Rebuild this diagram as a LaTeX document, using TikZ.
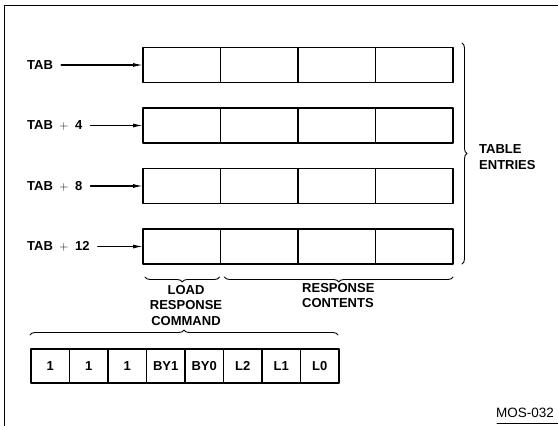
\documentclass[tikz,border=0pt]{standalone}
\usepackage{fontspec}
\setmainfont{Liberation Sans}
\usetikzlibrary{positioning,arrows.meta,decorations.pathreplacing}

\begin{document}
\begin{tikzpicture}[x=1pt, y=1pt, >={Latex[length=10pt,width=4pt]},
                    line cap=round, line join=round,
    cell/.style={draw, line width=1.3pt, minimum width=77.5pt,
                 minimum height=35pt, inner sep=0pt, outer sep=0pt},
    bitcell/.style={draw, line width=1.2pt, minimum width=38.5pt,
                    minimum height=34pt, inner sep=0pt, outer sep=0pt,
                    font=\bfseries\fontsize{13}{15.5}\selectfont},
    lbl/.style={font=\bfseries\fontsize{13}{15.5}\selectfont, inner sep=0pt},
    brc/.style={decorate, decoration={brace, amplitude=5pt}, line width=0.9pt}]
  \useasboundingbox (0,0) rectangle (558,426);

  % Frame (left and top edges, short piece of the bottom edge)
  \draw[line width=1pt] (558,420) -- (4,420) -- (4,0);
  \draw[line width=1pt] (497,2) -- (558,2);

  % Table rows, four 32-bit entries, with their address labels
  \foreach \r/\y/\t in {1/361/TAB, 2/300.5/TAB\enspace$+$\enspace4,
                        3/240/TAB\enspace$+$\enspace8,
                        4/179.5/TAB\enspace$+$\enspace12} {
    \node[cell, anchor=west] (row\r-1) at (143,\y) {};
    \node[cell, right=0pt of row\r-1] (row\r-2) {};
    \node[cell, right=0pt of row\r-2] (row\r-3) {};
    \node[cell, right=0pt of row\r-3] (row\r-4) {};
    \node[lbl, anchor=west] (tab\r) at (27,\y) {\t};
    \draw[->, line width=1.1pt, shorten <=8pt] (tab\r.east) -- (row\r-1.west);
  }

  % Table entries brace
  \draw[brc] ([xshift=9pt,yshift=4.5pt]row1-4.north east)
          -- ([xshift=9pt]row4-4.south east);
  \node[lbl, anchor=west, align=left] (entries) at (479,269)
    {TABLE\\ENTRIES};

  % Braces under the last entry
  \draw[brc] ([xshift=-1pt,yshift=-13pt]row4-1.south east)
          -- ([xshift=2pt,yshift=-13pt]row4-1.south west);
  \draw[brc] ([xshift=0pt,yshift=-13pt]row4-4.south east)
          -- ([xshift=4pt,yshift=-13pt]row4-2.south west);
  \node[lbl, anchor=north, align=center] (loadcmd) at (186,141)
    {LOAD\\RESPONSE\\COMMAND};
  \node[lbl, anchor=north west, align=left] (contents) at (302,143)
    {RESPONSE\\CONTENTS};

  % Load response command byte
  \foreach \b [count=\i] in {1,1,1,BY1,BY0,L2,L1,L0}
    \node[bitcell] (bit\i) at ({11.75+38.5*\i},60) {\b};
  \draw[brc] ([xshift=-1pt,yshift=14pt]bit1.north west)
          -- ([xshift=-1pt,yshift=14pt]bit8.north east);

  % Figure number
  \node[anchor=east, inner sep=0pt, font=\fontsize{13.5}{15}\selectfont]
    (fignum) at (554,13) {MOS-032};
\end{tikzpicture}
\end{document}
